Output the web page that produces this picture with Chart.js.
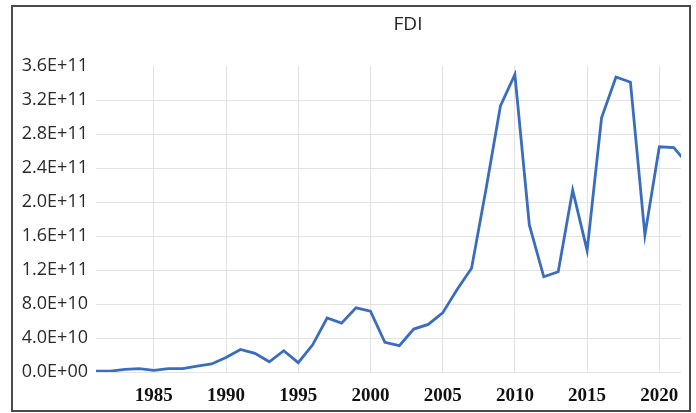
<!DOCTYPE html>
<html>
<head>
<meta charset="utf-8">
<script src="https://cdn.jsdelivr.net/npm/chart.js@4.4.1/dist/chart.umd.min.js"></script>
<style>
  html, body { margin: 0; padding: 0; background: #fff; }
  #wrap { position: relative; width: 696px; height: 413px; }
  #frame { position: absolute; left: 11px; top: 5px; width: 676px; height: 403px; border: 2px solid #4a4a4a; pointer-events: none; }
  #title { position: absolute; left: 358px; width: 100px; top: 10px; text-align: center; font: 19px "Open Sans", sans-serif; color: #222; }
</style>
</head>
<body>
<div id="wrap">
  <canvas id="chart" width="696" height="413"></canvas>
  <div id="frame"></div>
  <div id="title">FDI</div>
</div>
<script>
// years and FDI values (US$)
const years = [1981, 1982, 1983, 1984, 1985, 1986, 1987, 1988, 1989, 1990,
  1991, 1992, 1993, 1994, 1995, 1996, 1997, 1998, 1999, 2000,
  2001, 2002, 2003, 2004, 2005, 2006, 2007, 2008, 2009, 2010,
  2011, 2012, 2013, 2014, 2015, 2016, 2017, 2018, 2019, 2020,
  2021, 2022];
const fdi = [0.1e10, 0.1e10, 0.3e10, 0.4e10, 0.2e10, 0.4e10, 0.4e10, 0.7e10, 0.95e10, 1.7e10,
  2.65e10, 2.2e10, 1.2e10, 2.5e10, 1.1e10, 3.2e10, 6.35e10, 5.75e10, 7.55e10, 7.15e10,
  3.5e10, 3.1e10, 5.05e10, 5.6e10, 6.95e10, 9.7e10, 12.2e10, 21.5e10, 31.3e10, 35.0e10,
  17.3e10, 11.2e10, 11.8e10, 21.4e10, 14.3e10, 29.9e10, 34.7e10, 34.1e10, 16.1e10, 26.5e10,
  26.4e10, 24.4e10];
const xTicks = [1985, 1990, 1995, 2000, 2005, 2010, 2015, 2020];
const yTicks = [0, 4e10, 8e10, 1.2e11, 1.6e11, 2.0e11, 2.4e11, 2.8e11, 3.2e11, 3.6e11];

// 3.6E+11 style labels, exponent with two digits
const sci = (v) => {
  const s = v.toExponential(1).toUpperCase();
  return s.replace(/E([+-])(\d)$/, "E$10$2");
};

const points = years.map((y, i) => ({ x: y, y: fdi[i] }));

new Chart(document.getElementById("chart"), {
  type: "line",
  data: {
    datasets: [{
      data: points,
      borderColor: "#3a6dbd",
      borderWidth: 2.8,
      pointRadius: 0,
      tension: 0,
      clip: 0
    }]
  },
  options: {
    responsive: false,
    animation: false,
    layout: { padding: { left: 0, top: 66, right: 15, bottom: 0 } },
    plugins: { legend: { display: false }, tooltip: { enabled: false } },
    scales: {
      x: {
        type: "linear",
        min: 1981,
        max: 2021.5,
        afterBuildTicks: (scale) => { scale.ticks = xTicks.map(v => ({ value: v })); },
        afterFit: (scale) => { scale.height = 41; },
        grid: { color: "#e3e3e3", lineWidth: 1, drawTicks: false },
        border: { display: false },
        ticks: {
          padding: 13,
          color: "#111",
          font: { family: "'Liberation Serif', 'Times New Roman', serif", size: 19, weight: "bold" },
          callback: (v) => String(v)
        }
      },
      y: {
        min: 0,
        max: 3.6e11,
        afterBuildTicks: (scale) => { scale.ticks = yTicks.map(v => ({ value: v })); },
        afterFit: (scale) => { scale.width = 96; },
        grid: {
          color: (ctx) => (ctx.tick && ctx.tick.value >= 3.6e11) ? "rgba(0,0,0,0)" : "#e3e3e3",
          lineWidth: 1,
          drawTicks: false
        },
        border: { display: false },
        ticks: {
          padding: 8,
          color: "#2a2a2a",
          font: { family: "'Open Sans', sans-serif", size: 18 },
          callback: (v) => sci(v)
        }
      }
    }
  }
});
</script>
</body>
</html>
